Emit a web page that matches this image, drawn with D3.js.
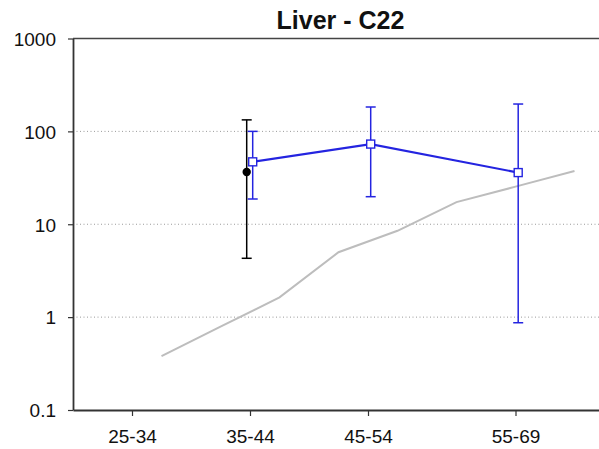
<!DOCTYPE html>
<html><head><meta charset="utf-8">
<script src="https://cdn.jsdelivr.net/npm/d3@7"></script>
<style>
body{margin:0;background:#fff;}
svg{display:block;font-family:"Liberation Sans",Arial,sans-serif;}
</style></head>
<body>
<svg id="chart" width="599" height="449"></svg>
<script>
const title = "Liver - C22";
const categories = ["25-34","35-44","45-54","55-69"];
const categoryAge = [30, 40, 50, 62.5];
const yTicks = [0.1, 1, 10, 100, 1000];
const yTickLabels = ["0.1","1","10","100","1000"];
const gridValues = [1, 10, 100];

// observed (blue squares)
const blueAge = [40, 50, 62.5];
const blueValue = [47, 73, 36];
const blueLower = [18.7, 19.8, 0.87];
const blueUpper = [100, 183, 197];

// black point
const blackAge = [40];
const blackValue = [36.5];
const blackLower = [4.3];
const blackUpper = [133];

// reference gray line
const grayAge = [32.5, 37.5, 42.5, 47.5, 52.5, 57.5, 62.5, 67.5];
const grayValue = [0.38, 0.79, 1.63, 5.0, 8.5, 17.3, 25.4, 37.4];

const svg = d3.select("#chart");
const mLeft = 73, mRight = 604, mTop = 38.5, mBottom = 410;
const x = d3.scaleLinear().domain([25, 70]).range([mLeft, mRight]);
const y = d3.scaleLog().domain([0.1, 1000]).range([mBottom, mTop]);

// grid
svg.append("g").selectAll("line").data(gridValues).join("line")
  .attr("x1", mLeft).attr("x2", mRight)
  .attr("y1", d => y(d)).attr("y2", d => y(d))
  .attr("stroke", "#9a9a9a").attr("stroke-width", 1)
  .attr("stroke-dasharray", "1,2.5");

// top frame
svg.append("line").attr("x1", mLeft).attr("x2", mRight)
  .attr("y1", y(1000)).attr("y2", y(1000))
  .attr("stroke", "#444").attr("stroke-width", 1.6);

// axes
const yAxis = d3.axisLeft(y).tickValues(yTicks)
  .tickFormat((d, i) => yTickLabels[i]).tickSizeOuter(0).tickSizeInner(5).tickPadding(12);
const gy = svg.append("g").attr("transform", `translate(${mLeft},0)`).call(yAxis);
const xAxis = d3.axisBottom(x).tickValues(categoryAge)
  .tickFormat((d, i) => categories[i]).tickSizeOuter(0).tickSizeInner(6).tickPadding(14);
const gx = svg.append("g").attr("transform", `translate(0,${mBottom})`).call(xAxis);
[gx, gy].forEach(g => {
  g.select(".domain").attr("stroke", "#333").attr("stroke-width", 1.8);
  g.selectAll(".tick line").attr("stroke", "#333").attr("stroke-width", 1.2);
  g.selectAll(".tick text").attr("fill", "#111").style("font-size", "19px")
    .style("font-family", "'Liberation Sans', Arial, sans-serif");
});
gx.selectAll(".tick text").attr("dy", "0.71em");
gy.selectAll(".tick text").attr("dy", "0.36em");

// gray line
const line = d3.line().x(d => x(d[0])).y(d => y(d[1]));
svg.append("path").datum(grayAge.map((a, i) => [a, grayValue[i]]))
  .attr("d", line).attr("fill", "none").attr("stroke", "#bdbdbd").attr("stroke-width", 2);

// black error bar + dot
const bOff = -3.3, uOff = 2.7, cap = 5;
const blackData = blackAge.map((a, i) => ({a, v: blackValue[i], lo: blackLower[i], hi: blackUpper[i]}));
const bg = svg.append("g");
blackData.forEach(d => {
  const cx = x(d.a) + bOff;
  bg.append("line").attr("x1", cx).attr("x2", cx).attr("y1", y(d.lo)).attr("y2", y(d.hi))
    .attr("stroke", "#000").attr("stroke-width", 1.5);
  [d.lo, d.hi].forEach(v => bg.append("line").attr("x1", cx - cap).attr("x2", cx + cap)
    .attr("y1", y(v)).attr("y2", y(v)).attr("stroke", "#000").attr("stroke-width", 1.5));
  bg.append("circle").attr("cx", cx).attr("cy", y(d.v)).attr("r", 4.2).attr("fill", "#000");
});

// blue series
const blue = "#2424e0";
const blueData = blueAge.map((a, i) => ({a, v: blueValue[i], lo: blueLower[i], hi: blueUpper[i]}));
const ug = svg.append("g");
blueData.forEach(d => {
  const cx = x(d.a) + uOff;
  ug.append("line").attr("x1", cx).attr("x2", cx).attr("y1", y(d.lo)).attr("y2", y(d.hi))
    .attr("stroke", blue).attr("stroke-width", 1.5);
  [d.lo, d.hi].forEach(v => ug.append("line").attr("x1", cx - cap).attr("x2", cx + cap)
    .attr("y1", y(v)).attr("y2", y(v)).attr("stroke", blue).attr("stroke-width", 1.5));
});
const bline = d3.line().x(d => x(d.a) + uOff).y(d => y(d.v));
ug.append("path").datum(blueData).attr("d", bline).attr("fill", "none")
  .attr("stroke", blue).attr("stroke-width", 2.2);
ug.selectAll("rect").data(blueData).join("rect")
  .attr("x", d => x(d.a) + uOff - 4).attr("y", d => y(d.v) - 4)
  .attr("width", 8).attr("height", 8)
  .attr("fill", "#fff").attr("stroke", blue).attr("stroke-width", 1.4);

// title
svg.append("text").attr("x", (mLeft + mRight) / 2 + 2).attr("y", 29)
  .attr("text-anchor", "middle").style("font-size", "25px").style("font-weight", "bold")
  .attr("fill", "#111").text(title);
</script>
</body></html>
